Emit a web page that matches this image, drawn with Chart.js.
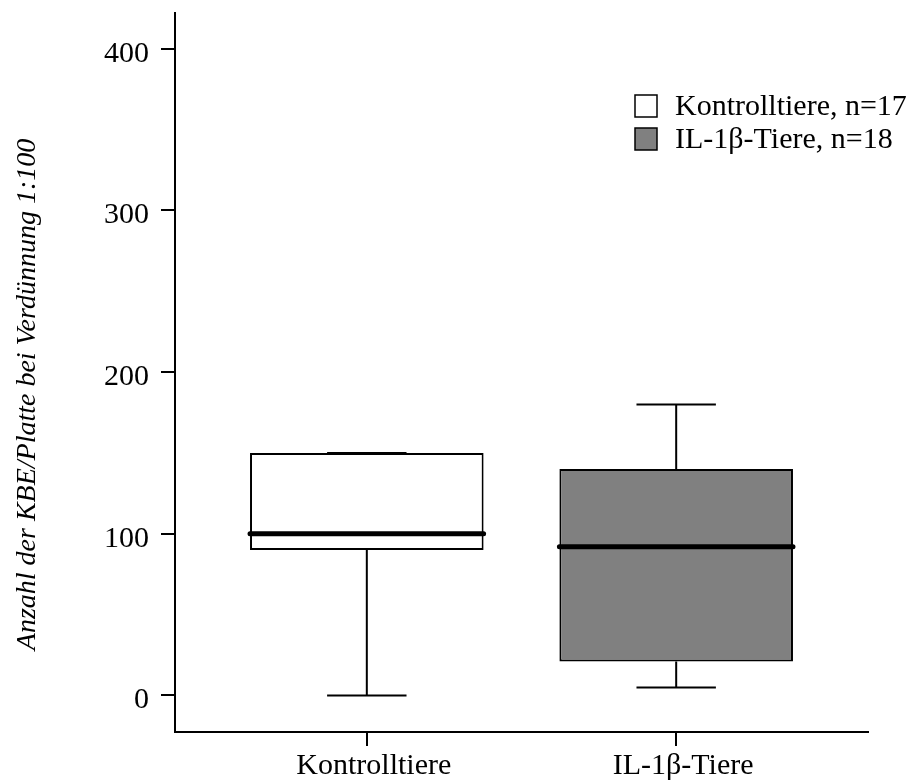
<!DOCTYPE html>
<html>
<head>
<meta charset="utf-8">
<script src="https://cdn.jsdelivr.net/npm/chart.js@4"></script>
<style>
  html, body { margin: 0; padding: 0; background: #fff; }
  #wrap { width: 910px; height: 781px; position: relative; }
</style>
</head>
<body>
<div id="wrap"><canvas id="c"></canvas></div>
<script>
// Groups and their five-number summaries (KBE per plate, dilution 1:100)
const categories = ['Kontrolltiere', 'IL-1β-Tiere'];
const groupLabels = ['Kontrolltiere, n=17', 'IL-1β-Tiere, n=18'];
const whiskerLow = [0, 5];
const quartile1 = [90, 21];
const medians = [100, 92];
const quartile3 = [150, 140];
const whiskerHigh = [150, 180];
const yTicks = [0, 100, 200, 300, 400];
const boxColors = ['#ffffff', '#808080'];
const yTitle = 'Anzahl der KBE/Platte bei Verdünnung 1:100';

const serif = '"Liberation Serif", "Times New Roman", serif';

// Whiskers, caps and median lines drawn on top of the box bars
const whiskerPlugin = {
  id: 'whiskers',
  afterDatasetsDraw(chart) {
    const meta = chart.getDatasetMeta(0);
    const ys = chart.scales.y;
    const ctx = chart.ctx;
    ctx.save();
    ctx.strokeStyle = '#000';
    meta.data.forEach((bar, i) => {
      const x = bar.x;
      const w = bar.width;
      const capHalf = w * 0.17;
      const pHigh = ys.getPixelForValue(whiskerHigh[i]);
      const pLow = ys.getPixelForValue(whiskerLow[i]);
      const pQ1 = ys.getPixelForValue(quartile1[i]);
      const pQ3 = ys.getPixelForValue(quartile3[i]);
      const pMed = ys.getPixelForValue(medians[i]);
      ctx.lineWidth = 2;
      ctx.lineCap = 'butt';
      ctx.beginPath();
      ctx.moveTo(x, pQ3); ctx.lineTo(x, pHigh);
      ctx.moveTo(x - capHalf, pHigh); ctx.lineTo(x + capHalf, pHigh);
      ctx.moveTo(x, pQ1); ctx.lineTo(x, pLow);
      ctx.moveTo(x - capHalf, pLow); ctx.lineTo(x + capHalf, pLow);
      ctx.stroke();
      ctx.lineWidth = 5;
      ctx.lineCap = 'round';
      ctx.beginPath();
      ctx.moveTo(x - w / 2, pMed); ctx.lineTo(x + w / 2, pMed);
      ctx.stroke();
    });
    ctx.restore();
  }
};

// Legend inside the plot area and the rotated y-axis title
const annotationPlugin = {
  id: 'annotations',
  afterDraw(chart) {
    const ctx = chart.ctx;
    const area = chart.chartArea;
    ctx.save();
    // legend
    const boxLeft = area.right - 233;
    let top = area.top + 82;
    ctx.font = '30px ' + serif;
    ctx.textBaseline = 'middle';
    ctx.textAlign = 'left';
    groupLabels.forEach((label, i) => {
      ctx.fillStyle = boxColors[i];
      ctx.fillRect(boxLeft, top, 22, 22);
      ctx.lineWidth = 1.5;
      ctx.strokeStyle = '#000';
      ctx.strokeRect(boxLeft, top, 22, 22);
      ctx.fillStyle = '#000';
      ctx.fillText(label, boxLeft + 40, top + 12);
      top += 33;
    });
    // y title
    ctx.translate(28, (area.top + area.bottom) / 2 + 22);
    ctx.rotate(-Math.PI / 2);
    ctx.font = 'italic 28px ' + serif;
    ctx.textAlign = 'center';
    ctx.textBaseline = 'middle';
    ctx.fillText(yTitle, 0, 0);
    ctx.restore();
  }
};

new Chart(document.getElementById('c'), {
  type: 'bar',
  data: {
    datasets: [{
      label: 'Box',
      data: categories.map((c, i) => ({ x: i + 1, y: [quartile1[i], quartile3[i]] })),
      backgroundColor: boxColors,
      borderColor: '#000',
      borderWidth: 2,
      borderSkipped: false,
      barPercentage: 1,
      categoryPercentage: 0.755
    }]
  },
  options: {
    responsive: true,
    maintainAspectRatio: false,
    animation: false,
    events: [],
    layout: { padding: { top: 13, right: 42, bottom: 0, left: 0 } },
    plugins: { legend: { display: false }, tooltip: { enabled: false } },
    scales: {
      x: {
        type: 'linear',
        min: 0.38,
        max: 2.62,
        offset: false,
        afterBuildTicks: s => { s.ticks = categories.map((c, i) => ({ value: i + 1 })); },
        afterFit: s => { s.height = 49; s.paddingLeft = 0; s.paddingRight = 0; },
        grid: { display: true, drawOnChartArea: false, drawTicks: true, tickLength: 14, color: '#000', lineWidth: 2, offset: false },
        border: { display: true, color: '#000', width: 2 },
        ticks: {
          font: { family: serif, size: 30 }, color: '#000', padding: 2, labelOffset: 7,
          maxRotation: 0, autoSkip: false,
          callback: (v, idx) => categories[idx]
        }
      },
      y: {
        type: 'linear',
        min: -22.6,
        max: 422.1,
        afterBuildTicks: s => { s.ticks = yTicks.map(v => ({ value: v })); },
        afterFit: s => { s.width = 175; s.paddingTop = 0; s.paddingBottom = 0; },
        grid: { display: true, drawOnChartArea: false, drawTicks: true, tickLength: 14, color: '#000', lineWidth: 2 },
        border: { display: true, color: '#000', width: 2 },
        ticks: { font: { family: serif, size: 30 }, color: '#000', padding: 12, labelOffset: 5 }
      }
    }
  },
  plugins: [whiskerPlugin, annotationPlugin]
});
</script>
</body>
</html>
